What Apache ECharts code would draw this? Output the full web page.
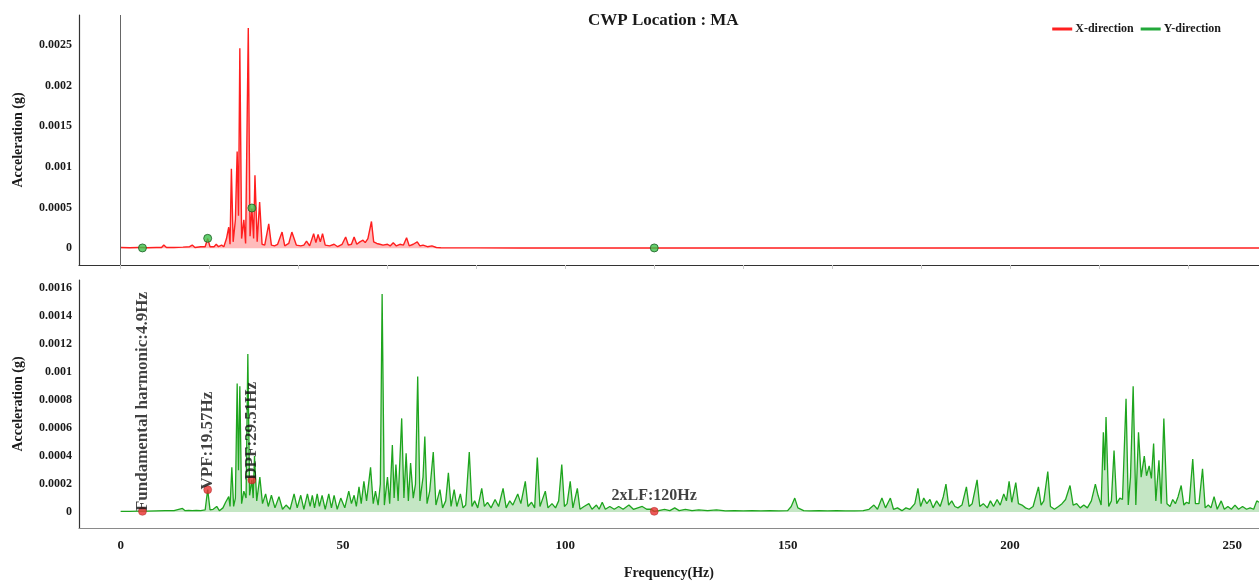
<!DOCTYPE html>
<html>
<head>
<meta charset="utf-8">
<script src="https://cdn.jsdelivr.net/npm/echarts@6/dist/echarts.min.js"></script>
<style>
html,body{margin:0;padding:0;background:#fff;}
#chart{width:1259px;height:584px;}
</style>
</head>
<body>
<div id="chart"></div>
<script>
// ---- Data ----
var titleText = 'CWP Location : MA';
var seriesNames = ['X-direction', 'Y-direction'];
var xTickLabels = [0, 50, 100, 150, 200, 250];
var topMinorTicks = [0, 20, 40, 60, 80, 100, 120, 140, 160, 180, 200, 220, 240];
var topYTicks = [0, 0.0005, 0.001, 0.0015, 0.002, 0.0025];
var bottomYTicks = [0, 0.0002, 0.0004, 0.0006, 0.0008, 0.001, 0.0012, 0.0014, 0.0016];

// X-direction acceleration spectrum [Hz, g]
var xDirection = [
[0,0.00001],[2,0.000008],[4,0.00001],[4.9,0.00001],[6,0.000008],[8,0.00001],[9.2,0.00001],[9.7,0.00004],[10.3,0.00001],[12,0.00001],[14,0.000015],[15.5,0.00002],[16.1,0.00004],[16.7,0.00001],[18,0.00002],[19,0.00002],[19.57,0.00012],[20.1,0.00002],[21,0.00002],[21.5,0.00005],[22,0.00002],[22.7,0.00004],[23.2,0.00002],[23.8,0.00012],[24.3,0.00026],[24.6,0.00005],[24.9,0.00098],[25.3,0.00008],[25.8,0.00035],[26.2,0.00119],[26.5,0.0004],[26.8,0.00246],[27.2,0.00012],[27.7,0.00035],[28.1,0.00006],[28.7,0.00271],[29.1,0.00015],[29.51,0.00049],[29.9,0.00012],[30.2,0.0009],[30.7,0.00008],[31.25,0.00057],[31.8,0.00005],[32.4,0.00004],[33.3,0.0003],[33.9,0.00004],[34.6,0.00003],[35.3,0.00005],[36.3,0.0002],[36.9,0.00003],[37.8,0.00006],[38.5,0.0002],[38.9,0.00019],[39.5,0.00004],[40.5,0.00003],[41.2,0.00004],[41.8,0.00009],[42.5,0.00003],[43.4,0.00018],[43.9,0.00007],[44.4,0.00017],[44.9,0.00008],[45.4,0.00018],[46,0.00004],[47,0.00003],[48,0.00005],[48.8,0.00002],[49.8,0.00005],[50.6,0.00014],[51.2,0.00004],[51.9,0.00005],[52.5,0.00014],[53.1,0.00005],[53.8,0.00008],[54.5,0.0001],[55,0.00007],[55.6,0.00012],[56.4,0.00033],[56.9,0.00008],[57.6,0.00006],[58.3,0.00005],[59,0.00004],[60,0.00005],[60.6,0.00003],[61.3,0.00007],[62,0.00003],[62.8,0.00005],[63.6,0.00004],[64.3,0.00013],[64.9,0.00003],[65.8,0.00005],[66.7,0.00008],[67.3,0.00003],[68,0.00004],[69,0.00002],[70,0.00003],[71,0.00001],[72,0.000008],[75,0.000006],[80,0.000006],[90,0.000005],[100,0.000005],[110,0.000005],[120,0.000005],[130,0.000005],[140,0.000006],[160,0.000004],[180,0.000005],[200,0.000006],[220,0.000004],[240,0.000005],[256,0.000004]
];

// Y-direction acceleration spectrum [Hz, g]
var yDirection = [
[0,0.000005],[2,0.000005],[4,0.000006],[4.9,0.000006],[6,0.000006],[8,0.000008],[10,0.00001],[12,0.00001],[13.9,0.000026],[14.5,0.00001],[15.3,0.000012],[16.1,0.00001],[17,0.000012],[18,0.00001],[19,0.000015],[19.57,0.00016],[20.1,0.000015],[20.8,0.00002],[21.6,0.00004],[22.2,0.00001],[23,0.00003],[23.6,0.00007],[24.3,0.00011],[24.6,0.00004],[25,0.00032],[25.4,0.00004],[25.8,0.0001],[26.2,0.00092],[26.5,0.0003],[26.8,0.0009],[27.2,0.00006],[27.7,0.00015],[28.2,0.0001],[28.6,0.00113],[29.0,0.00012],[29.51,0.00023],[29.8,0.0001],[30.1,0.0004],[30.6,0.00008],[31.3,0.00025],[31.9,0.00006],[32.6,0.00013],[33.2,0.00004],[33.9,0.00012],[34.7,0.00003],[35.6,0.00011],[36.4,0.00002],[37.2,0.00005],[38.1,0.00002],[39,0.00013],[39.7,0.00003],[40.5,0.00012],[41.2,0.00002],[42,0.00013],[42.6,0.00004],[43.1,0.00012],[43.6,0.00003],[44.2,0.00013],[44.7,0.00004],[45.3,0.00012],[46,0.00002],[46.8,0.00013],[47.4,0.00003],[48,0.00012],[48.7,0.00002],[49.5,0.0001],[50.4,0.00003],[51.3,0.00015],[51.9,0.00006],[52.5,0.00012],[53,0.00004],[53.6,0.00018],[54.1,0.00006],[54.7,0.00022],[55.3,0.00008],[56.2,0.00032],[56.8,0.00006],[57.3,0.00015],[57.9,0.00005],[58.4,0.0002],[58.8,0.00156],[59.3,0.00005],[60,0.00025],[60.5,0.00006],[61.1,0.00048],[61.5,0.0001],[61.9,0.00034],[62.4,0.00008],[63.2,0.00067],[63.7,0.0001],[64.2,0.00042],[64.7,0.00008],[65.2,0.00035],[65.8,0.0001],[66.3,0.0002],[66.8,0.00097],[67.3,0.00008],[68,0.00025],[68.4,0.00054],[68.9,0.00006],[69.5,0.00015],[70.3,0.00043],[70.9,0.00005],[71.8,0.00016],[72.4,0.00003],[73.1,0.00008],[73.7,0.00028],[74.3,0.00004],[75,0.00016],[75.6,0.00004],[76.4,0.00013],[77,0.00003],[77.6,0.00005],[78.4,0.00043],[79,0.00004],[79.6,0.00008],[80.3,0.00003],[81.2,0.00017],[81.8,0.00004],[82.5,0.00007],[83.3,0.00003],[84.2,0.00009],[85,0.00004],[86,0.00017],[86.7,0.00003],[87.5,0.00008],[88.2,0.00005],[89.3,0.00013],[90,0.00006],[91,0.00022],[91.6,0.00004],[92.4,0.00007],[93.1,0.00003],[93.7,0.00039],[94.3,0.00004],[95.5,0.00015],[96.1,0.00003],[97,0.00006],[97.8,0.00003],[98.5,0.00008],[99.2,0.00034],[99.8,0.00004],[100.4,0.00006],[101.1,0.00022],[101.7,0.00003],[102.7,0.00017],[103.3,0.00002],[104.2,0.00004],[105.3,0.00006],[106,0.00002],[107,0.00005],[107.6,0.00002],[108.3,0.00007],[109,0.00002],[110,0.00004],[111,0.00002],[112,0.00004],[113,0.00002],[114.3,0.00005],[115.3,0.00002],[116.3,0.00003],[117.3,0.00004],[118.3,0.00002],[119.3,0.00002],[120,0.000005],[121,0.00001],[122.3,0.00002],[123.5,0.00001],[124.6,0.00003],[125.6,0.00001],[127,0.00002],[128.5,0.00001],[130,0.000015],[132,0.00001],[134,0.000015],[136,0.000008],[138,0.00001],[140,0.000008],[142,0.00001],[144,0.000008],[146,0.00001],[148,0.000008],[150,0.00001],[150.8,0.00004],[151.6,0.0001],[152.3,0.00003],[153.6,0.00001],[155,0.000008],[157,0.00001],[159,0.000008],[161,0.00001],[163,0.000008],[165,0.000008],[167,0.00001],[168.3,0.00002],[169.4,0.00005],[170.2,0.00002],[171.2,0.0001],[172,0.00003],[173.1,0.0001],[173.8,0.00002],[174.7,0.00003],[175.7,0.00001],[176.6,0.00003],[177.5,0.00002],[178.6,0.00006],[179.3,0.00017],[179.9,0.00004],[180.6,0.0001],[181.3,0.00006],[182,0.00009],[182.7,0.00003],[183.5,0.00008],[184.3,0.00004],[185,0.00011],[185.6,0.0002],[186.2,0.00005],[186.9,0.00008],[187.6,0.00004],[188.3,0.00003],[189.2,0.00005],[190.2,0.00018],[190.8,0.00004],[191.5,0.00006],[192.6,0.00023],[193.2,0.00004],[194,0.00006],[194.9,0.00003],[195.6,0.00008],[196.3,0.00004],[197.1,0.00009],[197.8,0.00005],[198.6,0.00013],[199.2,0.00008],[199.8,0.00022],[200.4,0.00007],[201.3,0.00021],[201.9,0.00006],[202.7,0.00005],[203.5,0.00003],[204.3,0.00002],[205.2,0.00004],[206.4,0.00018],[207,0.00005],[207.6,0.00008],[208.5,0.00029],[209.1,0.00004],[210,0.00002],[210.9,0.00004],[211.7,0.00006],[212.5,0.00009],[213.5,0.00019],[214.2,0.00005],[215,0.00006],[215.8,0.00003],[216.6,0.00005],[217.4,0.00003],[218.3,0.00008],[219.2,0.0002],[219.8,0.00012],[220.5,0.00005],[221,0.00057],[221.3,0.0003],[221.6,0.00068],[222.2,0.00004],[222.8,0.00008],[223.4,0.00044],[224,0.00006],[224.7,0.0001],[225.3,0.00009],[226.1,0.00081],[226.6,0.00005],[227.1,0.00025],[227.7,0.0009],[228.3,0.00005],[228.9,0.00057],[229.5,0.00025],[230.2,0.0004],[230.7,0.00026],[231.3,0.00033],[231.8,0.00024],[232.3,0.00049],[232.8,0.00008],[233.5,0.00037],[234,0.00006],[234.6,0.00067],[235.3,0.00006],[236,0.00004],[236.6,0.00009],[237.2,0.00006],[237.8,0.00011],[238.5,0.00019],[239.1,0.00005],[239.7,0.00007],[240.3,0.00006],[241.1,0.00038],[241.7,0.00006],[242.5,0.00006],[243.3,0.00031],[243.9,0.00003],[244.6,0.00005],[245.2,0.00003],[245.9,0.00011],[246.6,0.00002],[247.5,0.00008],[248.2,0.00002],[249,0.00004],[249.8,0.00002],[250.6,0.00005],[251.4,0.00002],[252.3,0.00004],[253.2,0.00002],[254,0.00003],[254.8,0.00002],[255.5,0.00008],[256,0.00007]
];

// Characteristic frequency markers
var markerFreqs = [4.9, 19.57, 29.51, 120];
var markerTopValues = [0.000005, 0.000123, 0.000496, 0.000005];
var markerBottomValues = [0.000005, 0.00016, 0.00023, 0.000005];
var markerLabels = ['Fundamental harmonic:4.9Hz', 'VPF:19.57Hz', 'DPF:29.51Hz', '2xLF:120Hz'];
var markerRotated = [true, true, true, false];

// ---- Chart ----
var FONT = 'Liberation Serif';
var textColor = '#1a1a1a';
function fmt(v) { return String(+Number(v).toFixed(5)); }

var topMarks = markerFreqs.map(function (f, i) { return [f, markerTopValues[i]]; });
var bottomMarks = markerFreqs.map(function (f, i) {
  var lab = markerRotated[i]
    ? { show: true, formatter: markerLabels[i], rotate: 90, position: 'top', distance: -4, align: 'left', verticalAlign: 'middle', fontSize: 17 }
    : { show: true, formatter: markerLabels[i], position: 'top', distance: 3, fontSize: 16 };
  return { value: [f, markerBottomValues[i]], label: lab };
});

var chart = echarts.init(document.getElementById('chart'), null, { renderer: 'canvas' });
var option = {
  backgroundColor: '#ffffff',
  animation: false,
  title: {
    text: titleText,
    left: 583, top: 7,
    textStyle: { fontFamily: FONT, fontWeight: 'bold', fontSize: 17, color: textColor }
  },
  legend: {
    data: seriesNames,
    right: 33, top: 18,
    icon: 'rect', itemWidth: 20, itemHeight: 3, itemGap: 7,
    textStyle: { fontFamily: FONT, fontWeight: 'bold', fontSize: 12, color: textColor, padding: [0, 0, 0, -2] }
  },
  grid: [
    { left: 79, right: 0, top: 15, height: 250, containLabel: false, outerBoundsMode: 'none' },
    { left: 79, right: 0, top: 280, height: 248, containLabel: false, outerBoundsMode: 'none' }
  ],
  xAxis: [
    {
      type: 'value', gridIndex: 0, min: -9.37, max: 256,
      axisLine: { onZero: false, lineStyle: { color: '#333', width: 1.2 } },
      axisTick: { show: true, customValues: topMinorTicks, length: 4, lineStyle: { color: '#ccc' } },
      axisLabel: { show: false },
      splitLine: { show: false }
    },
    {
      type: 'value', gridIndex: 1, min: -9.37, max: 256,
      name: 'Frequency(Hz)', nameLocation: 'middle', nameGap: 38,
      nameTextStyle: { fontFamily: FONT, fontWeight: 'bold', fontSize: 14, color: textColor },
      axisLine: { onZero: false, lineStyle: { color: '#8a8a8a', width: 1.2 } },
      axisTick: { show: false },
      axisLabel: { customValues: xTickLabels, margin: 11, fontFamily: FONT, fontWeight: 'bold', fontSize: 13, color: textColor, formatter: fmt },
      splitLine: { show: false }
    }
  ],
  yAxis: [
    {
      type: 'value', gridIndex: 0, min: -0.000205, max: 0.00287,
      name: 'Acceleration (g)', nameLocation: 'middle', nameGap: 54,
      nameTextStyle: { fontFamily: FONT, fontWeight: 'bold', fontSize: 14, color: textColor },
      axisLine: { show: true, onZero: false, lineStyle: { color: '#333', width: 1.2 } },
      axisTick: { show: false },
      axisLabel: { customValues: topYTicks, margin: 7, fontFamily: FONT, fontWeight: 'bold', fontSize: 12, color: textColor, formatter: fmt },
      splitLine: { show: false }
    },
    {
      type: 'value', gridIndex: 1, min: -0.000114, max: 0.00166,
      name: 'Acceleration (g)', nameLocation: 'middle', nameGap: 54,
      nameTextStyle: { fontFamily: FONT, fontWeight: 'bold', fontSize: 14, color: textColor },
      axisLine: { show: true, onZero: false, lineStyle: { color: '#333', width: 1.2 } },
      axisTick: { show: false },
      axisLabel: { customValues: bottomYTicks, margin: 7, fontFamily: FONT, fontWeight: 'bold', fontSize: 12, color: textColor, formatter: fmt },
      splitLine: { show: false }
    }
  ],
  series: [
    {
      name: seriesNames[0], type: 'line', xAxisIndex: 0, yAxisIndex: 0,
      data: xDirection, showSymbol: false, symbol: 'none',
      color: '#ff1f1f',
      lineStyle: { color: '#ff1f1f', width: 1.4 },
      areaStyle: { color: 'rgba(255,40,40,0.45)' },
      markLine: {
        silent: true, symbol: 'none', label: { show: false },
        lineStyle: { color: '#666', width: 1, type: 'solid' },
        data: [{ xAxis: 0 }]
      },
      z: 2
    },
    {
      name: seriesNames[1], type: 'line', xAxisIndex: 1, yAxisIndex: 1,
      data: yDirection, showSymbol: false, symbol: 'none',
      color: '#22a83a',
      lineStyle: { color: '#1ea51e', width: 1.3 },
      areaStyle: { color: 'rgba(70,175,70,0.45)' },
      z: 2
    },
    {
      name: 'topMarkers', type: 'scatter', xAxisIndex: 0, yAxisIndex: 0,
      data: topMarks, symbolSize: 8,
      itemStyle: { color: '#3cc24a', borderColor: '#1d5e25', borderWidth: 1 },
      z: 5
    },
    {
      name: 'bottomMarkers', type: 'scatter', xAxisIndex: 1, yAxisIndex: 1,
      data: bottomMarks, symbolSize: 8,
      itemStyle: { color: '#e83030', borderColor: '#a01818', borderWidth: 0.5 },
      label: { fontFamily: FONT, fontWeight: 'bold', fontSize: 16, color: '#111' },
      z: 5
    }
  ]
};
chart.setOption(option);
</script>
</body>
</html>
